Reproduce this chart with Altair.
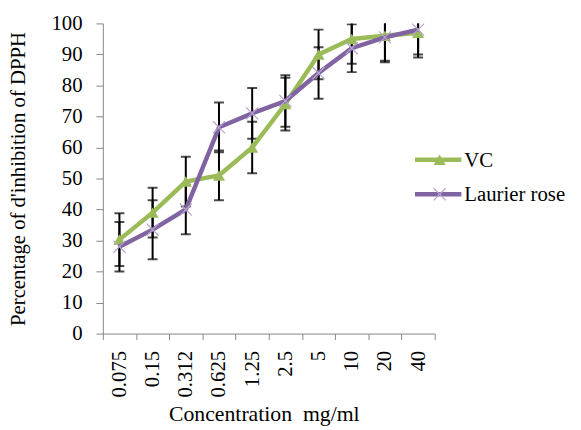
import altair as alt
import pandas as pd

conc = ["0.075", "0.15", "0.312", "0.625", "1.25", "2.5", "5", "10", "20", "40"]
vc = [30.3, 39, 49, 51, 60, 74, 90, 95, 96, 97]
vc_err = [8.5, 8, 8, 8, 8.3, 8.5, 8, 8, 8, 8]
laurier = [28, 33.5, 40, 66.5, 71, 75, 84, 92, 95.5, 98]
laurier_err = [8, 9.5, 8, 8, 8.2, 8.3, 8.3, 7.7, 8, 8]
series_names = ["VC", "Laurier rose"]
y_ticks = [0, 10, 20, 30, 40, 50, 60, 70, 80, 90, 100]

GREEN = "#9BBB59"
PURPLE = "#8064A2"
XCOL = "#B7A5CF"
FONT = "Liberation Serif"

rows = []
for s, vals, errs in [(series_names[0], vc, vc_err), (series_names[1], laurier, laurier_err)]:
    for c, v, e in zip(conc, vals, errs):
        rows.append({"conc": c, "series": s, "value": v, "lo": v - e, "hi": v + e})
df = pd.DataFrame(rows)

W, H = 336, 314

xenc = alt.X(
    "conc:N", sort=conc, bandPosition=0.5,
    scale=alt.Scale(type="band", paddingInner=0, paddingOuter=0),
    axis=alt.Axis(
        title="Concentration\u00a0 mg/ml", labelAngle=-90, labelAlign="right", labelBaseline="middle",
        labelFont=FONT, labelFontSize=21, labelColor="black", labelPadding=11, labelOverlap=False,
        tickBand="extent", tickSize=6, tickColor="#868686", domainColor="#868686",
        titleFont=FONT, titleFontSize=22, titleFontWeight="normal", titleColor="black",
        titleX=163, titleY=88, titleBaseline="alphabetic", titleAlign="center", grid=False,
    ),
)
yscale = alt.Scale(domain=[0, 100], nice=False)
yaxis = alt.Axis(
    values=y_ticks, title="Percentage of d'inhibition of DPPH",
    labelFont=FONT, labelFontSize=21, labelColor="black", labelPadding=14, labelOverlap=False,
    tickSize=7, tickColor="#868686", domainColor="#868686", grid=False,
    titleFont=FONT, titleFontSize=21, titleFontWeight="normal", titleColor="black",
    titleX=-79, titleY=157, titleAngle=-90, titleBaseline="alphabetic", titleAlign="center",
)
yenc = alt.Y("value:Q", scale=yscale, axis=yaxis)

base = alt.Chart(df)

err_rule = base.mark_rule(color="black", strokeWidth=2, clip=True).encode(
    x=xenc, y=alt.Y("lo:Q", scale=yscale, axis=yaxis), y2="hi:Q"
)
cap_lo = base.mark_tick(color="black", thickness=2, size=10, clip=True).encode(
    x=xenc, y=alt.Y("lo:Q", scale=yscale, axis=yaxis)
)
cap_hi = base.mark_tick(color="black", thickness=2, size=10, clip=True).encode(
    x=xenc, y=alt.Y("hi:Q", scale=yscale, axis=yaxis)
)

vc_df = base.transform_filter(alt.datum.series == series_names[0])
lr_df = base.transform_filter(alt.datum.series == series_names[1])

vc_line = vc_df.mark_line(color=GREEN, strokeWidth=4.5).encode(x=xenc, y=yenc)
vc_pts = vc_df.mark_point(shape="triangle-up", filled=True, color=GREEN, size=150, opacity=1).encode(x=xenc, y=yenc)
lr_line = lr_df.mark_line(color=PURPLE, strokeWidth=4.5).encode(x=xenc, y=yenc)
XPATH = "M-1,-1L1,1M1,-1L-1,1"
lr_pts = lr_df.mark_point(shape=XPATH, filled=False, color=XCOL, size=150, strokeWidth=1.2, opacity=1).encode(x=xenc, y=yenc)

# manual legend
one = alt.Chart(pd.DataFrame({"k": [0]}))
leg = []
for name, col, ly in [(series_names[0], GREEN, 138), (series_names[1], PURPLE, 173)]:
    leg.append(one.mark_rule(color=col, strokeWidth=4.5).encode(
        x=alt.value(316), x2=alt.value(363), y=alt.value(ly)))
    leg.append(one.mark_text(text=name, font=FONT, fontSize=21, color="black", align="left",
                             baseline="alphabetic").encode(x=alt.value(366), y=alt.value(ly + 7)))
leg.append(one.mark_point(shape="triangle-up", filled=True, color=GREEN, size=150, opacity=1).encode(
    x=alt.value(341), y=alt.value(138)))
leg.append(one.mark_point(shape=XPATH, filled=False, color=XCOL, size=150, strokeWidth=1.2, opacity=1).encode(
    x=alt.value(341), y=alt.value(173)))

chart = alt.layer(err_rule, cap_lo, cap_hi, vc_line, vc_pts, lr_line, lr_pts, *leg).properties(
    width=W, height=H,
    autosize=alt.AutoSizeParams(type="none"),
    padding={"left": 96, "top": 13, "right": 140, "bottom": 95},
    background="white",
).configure_view(stroke=None)

chart.save("out.html", embed_options={"renderer": "svg", "actions": False})
